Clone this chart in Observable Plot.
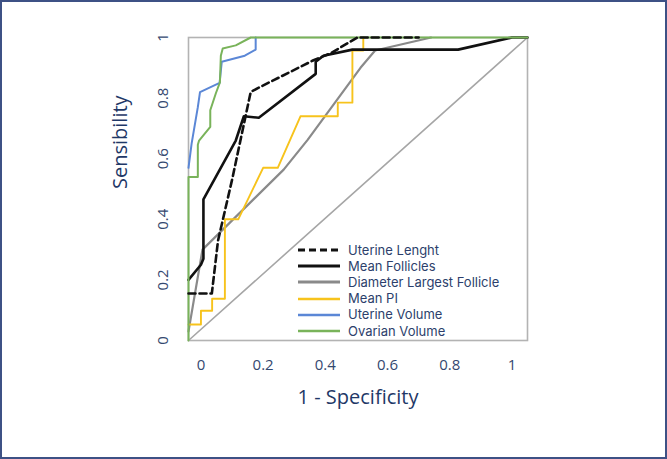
<!DOCTYPE html>
<html>
<head>
<meta charset="utf-8">
<script src="https://cdn.jsdelivr.net/npm/d3@7"></script>
<script src="https://cdn.jsdelivr.net/npm/@observablehq/plot@0.6"></script>
<style>
  html, body { margin: 0; padding: 0; background: #fff; }
  #wrap { position: relative; width: 667px; height: 459px; overflow: hidden; font-family: "Open Sans", sans-serif; }
  #border { position: absolute; left: 0; top: 0; width: 667px; height: 459px; box-sizing: border-box; border: 2px solid #3e5185; pointer-events: none; }
  #legend { position: absolute; left: 298px; top: 242px; color: #2d3f6c; font-family: Inter, sans-serif; font-size: 13px; line-height: 15px; }
  #legend .row { display: flex; align-items: center; height: 16.2px; white-space: nowrap; }
  #legend span { display: inline-block; line-height: 15px; height: 15px; }
  #legend svg { margin-right: 8px; }
</style>
</head>
<body>
<div id="wrap"><div id="chart"></div><div id="legend"></div><div id="border"></div></div>
<script>
// Tick values and labels
const xTicks = [0, 0.2, 0.4, 0.6, 0.8, 1];
const xTickLabels = ["0", "0.2", "0.4", "0.6", "0.8", "1"];
const yTicks = [0, 0.2, 0.4, 0.6, 0.8, 1];
const yTickLabels = ["0", "0.2", "0.4", "0.6", "0.8", "1"];

// Series names
const seriesNames = ["Uterine Lenght", "Mean Follicles", "Diameter Largest Follicle", "Mean PI", "Uterine Volume", "Ovarian Volume"];

// Reference diagonal
const diagX = [-0.04, 1.05];
const diagY = [0, 1];

// Uterine Lenght (dashed black)
const ulX = [-0.04, 0.035, 0.055, 0.10, 0.16, 0.183, 0.362, 0.417, 0.503, 0.70];
const ulY = [0.155, 0.155, 0.33, 0.53, 0.82, 0.833, 0.925, 0.948, 1.0, 1.0];

// Mean Follicles (black)
const mfX = [-0.04, 0.0, 0.008, 0.008, 0.112, 0.138, 0.186, 0.369, 0.369, 0.394, 0.487, 0.827, 1.0, 1.05];
const mfY = [0.2, 0.25, 0.27, 0.466, 0.66, 0.74, 0.735, 0.88, 0.92, 0.94, 0.96, 0.96, 1.0, 1.0];

// Diameter Largest Follicle (gray)
const dlX = [-0.04, 0.005, 0.266, 0.343, 0.513, 0.56, 0.74];
const dlY = [0.03, 0.30, 0.564, 0.662, 0.90, 0.957, 1.0];

// Mean PI (yellow)
const mpX = [-0.04, 0.0, 0.0, 0.036, 0.036, 0.077, 0.077, 0.12, 0.2, 0.247, 0.32, 0.44, 0.44, 0.487, 0.487, 0.522, 0.522];
const mpY = [0.053, 0.053, 0.098, 0.098, 0.138, 0.138, 0.40, 0.40, 0.57, 0.57, 0.74, 0.74, 0.785, 0.785, 0.957, 0.957, 1.0];

// Uterine Volume (blue)
const uvX = [-0.04, -0.03, -0.01, -0.003, 0.06, 0.067, 0.141, 0.176, 0.176];
const uvY = [0.57, 0.65, 0.77, 0.82, 0.85, 0.92, 0.94, 0.96, 1.0];

// Ovarian Volume (green)
const ovX = [-0.04, -0.04, -0.01, -0.01, -0.006, 0.03, 0.03, 0.048, 0.061, 0.064, 0.07, 0.112, 0.16, 1.05];
const ovY = [0, 0.54, 0.54, 0.646, 0.66, 0.705, 0.76, 0.816, 0.852, 0.94, 0.964, 0.974, 1.0, 1.0];

const toRows = (xs, ys) => xs.map((x, i) => ({x, y: ys[i]}));

const styles = [
  {stroke: "#111111", strokeWidth: 2.6, strokeDasharray: "7,4"},
  {stroke: "#111111", strokeWidth: 2.6},
  {stroke: "#8a8a8a", strokeWidth: 2.2},
  {stroke: "#f7c31c", strokeWidth: 1.9},
  {stroke: "#5b87d6", strokeWidth: 2},
  {stroke: "#79b35a", strokeWidth: 2}
];
const seriesData = [toRows(ulX, ulY), toRows(mfX, mfY), toRows(dlX, dlY), toRows(mpX, mpY), toRows(uvX, uvY), toRows(ovX, ovY)];
const drawOrder = [2, 3, 1, 4, 5, 0];

const xLab = new Map(xTicks.map((t, i) => [t, xTickLabels[i]]));
const yLab = new Map(yTicks.map((t, i) => [t, yTickLabels[i]]));

const chart = Plot.plot({
  width: 667,
  height: 459,
  marginLeft: 188,
  marginRight: 140,
  marginTop: 37,
  marginBottom: 119,
  x: {domain: [-0.04, 1.05]},
  y: {domain: [0, 1]},
  style: {fontFamily: "'Open Sans', sans-serif", background: "white", color: "#34486f"},
  marks: [
    Plot.axisX(xTicks, {tickSize: 0, tickPadding: 19, fontSize: 15, tickFormat: d => xLab.get(d), label: null}),
    Plot.axisY(yTicks, {tickSize: 0, tickPadding: 25, fontSize: 15, rotate: -90, textAnchor: "middle", tickFormat: d => yLab.get(d), label: null}),
    Plot.text(["1 - Specificity"], {frameAnchor: "bottom", dy: 63, fontSize: 20, fill: "#1f3867"}),
    Plot.text(["Sensibility"], {frameAnchor: "left", dx: -68, rotate: -90, fontSize: 20, fill: "#1f3867"}),
    Plot.line(toRows(diagX, diagY), {x: "x", y: "y", stroke: "#a6a6a6", strokeWidth: 1.6}),
    Plot.frame({stroke: "#b3b3b3", strokeWidth: 1.6}),
    ...drawOrder.map(k => Plot.line(seriesData[k], {x: "x", y: "y", ...styles[k]}))
  ]
});
document.getElementById("chart").appendChild(chart);

const legend = document.getElementById("legend");
seriesNames.forEach((name, k) => {
  const row = document.createElement("div");
  row.className = "row";
  const s = styles[k];
  row.innerHTML = `<svg width="42" height="6"><line x1="0" y1="3" x2="42" y2="3" stroke="${s.stroke}" stroke-width="${s.strokeWidth + 0.6}" ${s.strokeDasharray ? `stroke-dasharray="${s.strokeDasharray}"` : ""}/></svg><span>${name}</span>`;
  legend.appendChild(row);
});
</script>
</body>
</html>
